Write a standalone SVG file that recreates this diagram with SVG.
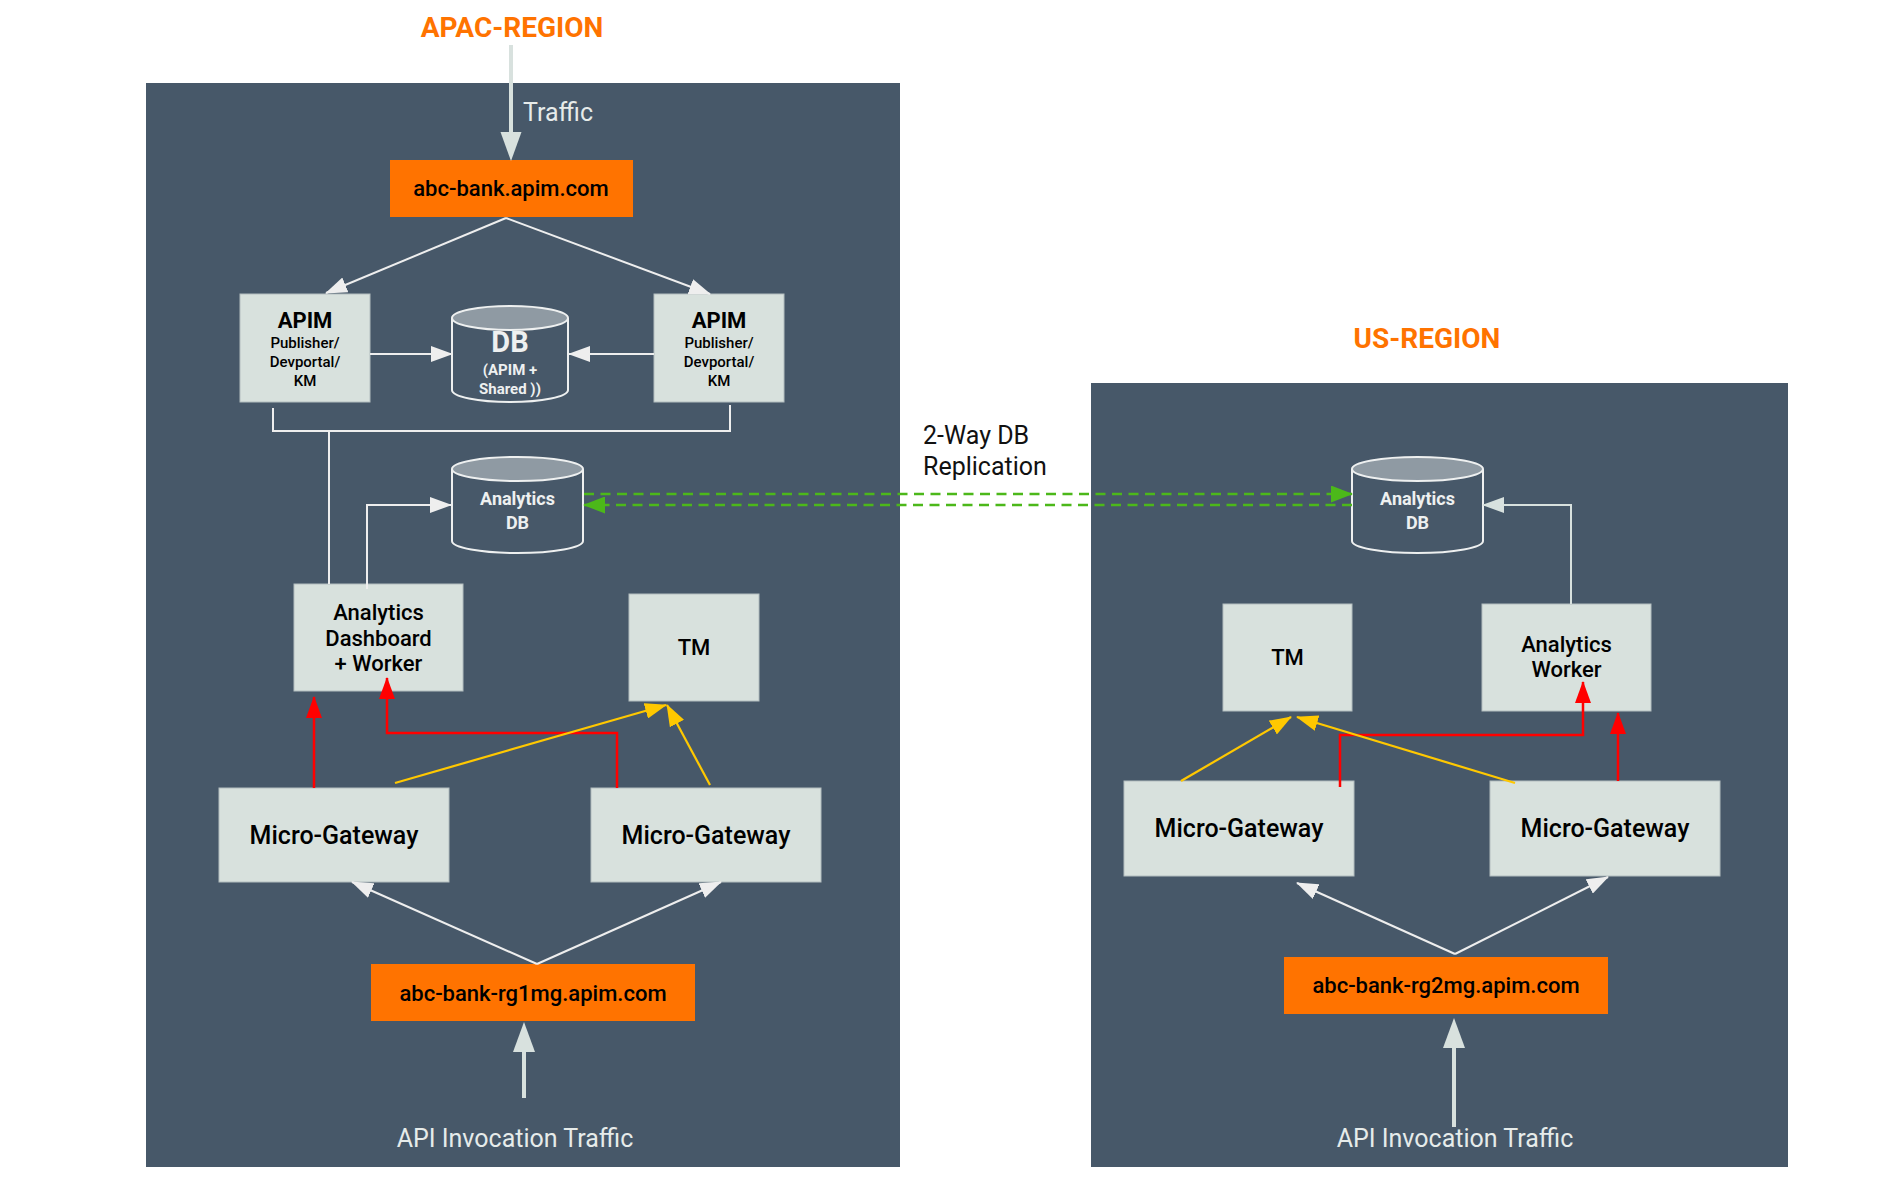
<svg xmlns="http://www.w3.org/2000/svg" width="1902" height="1190" viewBox="0 0 1902 1190">
<style>
.panel{fill:#475869}
.box{fill:#d8e1dd;stroke:#b3bdbf;stroke-width:1}
.orange{fill:#ff7300}
.cyl{fill:#475869;stroke:#eef0f0;stroke-width:2}
.cyltop{fill:#8f9aa3;stroke:#eef0f0;stroke-width:2}
text{font-family:Roboto,"Liberation Sans",sans-serif;text-anchor:middle}
.title{font-size:28px;font-weight:bold;fill:#ff7300}
.lt{font-size:25px;fill:#e6ebea}
.dk{font-size:25px;fill:#111;text-anchor:start}
.apim{font-size:22px;font-weight:bold;fill:#000}
.sub{font-size:15px;font-weight:500;fill:#000}
.dbb{font-size:29px;font-weight:bold;fill:#eef0f0}
.dbs{font-size:15px;font-weight:bold;fill:#eef0f0}
.adb{font-size:18px;font-weight:bold;fill:#eef0f0}
.nd{font-size:22px;font-weight:500;fill:#000}
.mg{font-size:25px;font-weight:500;fill:#000}
.url{font-size:22px;font-weight:500;fill:#000}
.w{fill:none;stroke:#eeeeee;stroke-width:2}
.l{fill:none;stroke:#d8e1de;stroke-width:2}
.r{fill:none;stroke:#ff0000;stroke-width:2.5}
.y{fill:none;stroke:#ffc800;stroke-width:2.2}
.g{fill:none;stroke:#4cb81a;stroke-width:2.5;stroke-dasharray:10 6.5}
.thick{stroke:#d8e1de;stroke-width:4;fill:none}
</style>
<defs>
<marker id="mw" markerUnits="userSpaceOnUse" markerWidth="22" markerHeight="16" refX="21" refY="8" orient="auto"><path d="M0,0 L22,8 L0,16 z" fill="#eeeeee"/></marker>
<marker id="ml" markerUnits="userSpaceOnUse" markerWidth="22" markerHeight="16" refX="21" refY="8" orient="auto"><path d="M0,0 L22,8 L0,16 z" fill="#d8e1de"/></marker>
<marker id="mr" markerUnits="userSpaceOnUse" markerWidth="22" markerHeight="16" refX="21" refY="8" orient="auto"><path d="M0,0 L22,8 L0,16 z" fill="#ff0000"/></marker>
<marker id="my" markerUnits="userSpaceOnUse" markerWidth="22" markerHeight="16" refX="21" refY="8" orient="auto"><path d="M0,0 L22,8 L0,16 z" fill="#ffc800"/></marker>
<marker id="mg" markerUnits="userSpaceOnUse" markerWidth="22" markerHeight="17" refX="21" refY="8.5" orient="auto"><path d="M0,0 L22,8.5 L0,17 z" fill="#4cb81a"/></marker>
</defs>
<rect width="1902" height="1190" fill="#ffffff"/>

<g id="apac-region">
<rect class="panel" x="146" y="83" width="754" height="1084"/>
<text class="title" x="512" y="37">APAC-REGION</text>
<text class="lt" x="523" y="121" style="text-anchor:start">Traffic</text>
<text class="lt" x="515" y="1147">API Invocation Traffic</text>
</g>
<g id="us-region">
<rect class="panel" x="1091" y="383" width="697" height="784"/>
<text class="title" x="1427" y="348">US-REGION</text>
<text class="lt" x="1455" y="1147">API Invocation Traffic</text>
</g>
<g id="replication-label">
<text class="dk" x="923" y="444">2-Way DB</text>
<text class="dk" x="923" y="475">Replication</text>
</g>

<g id="abc-bank">
<rect class="orange" x="390" y="160" width="243" height="57"/>
<text class="url" x="511" y="196">abc-bank.apim.com</text>
</g>
<g id="apim-left">
<rect class="box" x="240" y="294" width="130" height="108"/>
<text class="apim" x="305" y="328">APIM</text>
<text class="sub" x="305" y="348">Publisher/</text>
<text class="sub" x="305" y="367">Devportal/</text>
<text class="sub" x="305" y="386">KM</text>
</g>
<g id="apim-right">
<rect class="box" x="654" y="294" width="130" height="108"/>
<text class="apim" x="719" y="328">APIM</text>
<text class="sub" x="719" y="348">Publisher/</text>
<text class="sub" x="719" y="367">Devportal/</text>
<text class="sub" x="719" y="386">KM</text>
</g>
<g id="db">
<path class="cyl" d="M452,318 V390 A58,12 0 0 0 568,390 V318"/>
<ellipse class="cyltop" cx="510" cy="318" rx="58" ry="12"/>
<text class="dbb" x="510" y="352">DB</text>
<text class="dbs" x="510" y="375">(APIM +</text>
<text class="dbs" x="510" y="394">Shared ))</text>
</g>
<g id="analytics-db-apac">
<path class="cyl" d="M452,469 V541 A65.5,12 0 0 0 583,541 V469"/>
<ellipse class="cyltop" cx="517.5" cy="469" rx="65.5" ry="12"/>
<text class="adb" x="517.5" y="505">Analytics</text>
<text class="adb" x="517.5" y="529">DB</text>
</g>
<g id="analytics-dashboard">
<rect class="box" x="294" y="584" width="169" height="107"/>
<text class="nd" x="378.5" y="620">Analytics</text>
<text class="nd" x="378.5" y="646">Dashboard</text>
<text class="nd" x="378.5" y="671">+ Worker</text>
</g>
<g id="tm-apac">
<rect class="box" x="629" y="594" width="130" height="107"/>
<text class="nd" x="694" y="655">TM</text>
</g>
<g id="mg-apac-1">
<rect class="box" x="219" y="788" width="230" height="94"/>
<text class="mg" x="334" y="844">Micro-Gateway</text>
</g>
<g id="mg-apac-2">
<rect class="box" x="591" y="788" width="230" height="94"/>
<text class="mg" x="706" y="844">Micro-Gateway</text>
</g>
<g id="rg1mg">
<rect class="orange" x="371" y="964" width="324" height="57"/>
<text class="url" x="533" y="1001">abc-bank-rg1mg.apim.com</text>
</g>

<g id="analytics-db-us">
<path class="cyl" d="M1352,469 V541 A65.5,12 0 0 0 1483,541 V469"/>
<ellipse class="cyltop" cx="1417.5" cy="469" rx="65.5" ry="12"/>
<text class="adb" x="1417.5" y="505">Analytics</text>
<text class="adb" x="1417.5" y="529">DB</text>
</g>
<g id="tm-us">
<rect class="box" x="1223" y="604" width="129" height="107"/>
<text class="nd" x="1287.5" y="665">TM</text>
</g>
<g id="analytics-worker">
<rect class="box" x="1482" y="604" width="169" height="107"/>
<text class="nd" x="1566.5" y="652">Analytics</text>
<text class="nd" x="1566.5" y="677">Worker</text>
</g>
<g id="mg-us-1">
<rect class="box" x="1124" y="781" width="230" height="95"/>
<text class="mg" x="1239" y="837">Micro-Gateway</text>
</g>
<g id="mg-us-2">
<rect class="box" x="1490" y="781" width="230" height="95"/>
<text class="mg" x="1605" y="837">Micro-Gateway</text>
</g>
<g id="rg2mg">
<rect class="orange" x="1284" y="957" width="324" height="57"/>
<text class="url" x="1446" y="993">abc-bank-rg2mg.apim.com</text>
</g>

<g id="connectors">
<line class="thick" x1="511" y1="45" x2="511" y2="133"/>
<polygon points="500.5,132 521.5,132 511,161" fill="#d8e1de"/>
<line class="w" x1="506" y1="218" x2="326" y2="293" marker-end="url(#mw)"/>
<line class="w" x1="506" y1="218" x2="710" y2="294" marker-end="url(#mw)"/>
<line class="w" x1="370" y1="354" x2="452" y2="354" marker-end="url(#mw)"/>
<line class="w" x1="654" y1="354" x2="569" y2="354" marker-end="url(#mw)"/>
<polyline class="w" points="273,408 273,431 730,431 730,405"/>
<line class="w" x1="329" y1="431" x2="329" y2="584"/>
<polyline class="w" points="367,589 367,505 451,505" marker-end="url(#mw)"/>
<line class="g" x1="584" y1="494" x2="1352" y2="494" marker-end="url(#mg)"/>
<line class="g" x1="1352" y1="505" x2="584" y2="505" marker-end="url(#mg)"/>
<line class="r" x1="314" y1="788" x2="314" y2="697" marker-end="url(#mr)"/>
<polyline class="r" points="617,788 617,733 387,733 387,678" marker-end="url(#mr)"/>
<line class="y" x1="395" y1="783" x2="666" y2="705" marker-end="url(#my)"/>
<line class="y" x1="710" y1="785" x2="667" y2="705" marker-end="url(#my)"/>
<line class="w" x1="537" y1="964" x2="352" y2="882" marker-end="url(#mw)"/>
<line class="w" x1="537" y1="964" x2="721" y2="882" marker-end="url(#mw)"/>
<line class="thick" x1="524" y1="1098" x2="524" y2="1051"/>
<polygon points="513,1052 535,1052 524,1022" fill="#d8e1de"/>

<polyline class="l" points="1571,604 1571,505 1483,505" marker-end="url(#ml)"/>
<polyline class="r" points="1340,787 1340,735 1583,735 1583,682" marker-end="url(#mr)"/>
<line class="r" x1="1618" y1="781" x2="1618" y2="713" marker-end="url(#mr)"/>
<line class="y" x1="1181" y1="781" x2="1291" y2="717" marker-end="url(#my)"/>
<line class="y" x1="1515" y1="783" x2="1297" y2="717" marker-end="url(#my)"/>
<line class="w" x1="1455" y1="954" x2="1297" y2="883" marker-end="url(#mw)"/>
<line class="w" x1="1455" y1="954" x2="1608" y2="877" marker-end="url(#mw)"/>
<line class="thick" x1="1454" y1="1127" x2="1454" y2="1047"/>
<polygon points="1443,1048 1465,1048 1454,1018" fill="#d8e1de"/>
</g>
</svg>
